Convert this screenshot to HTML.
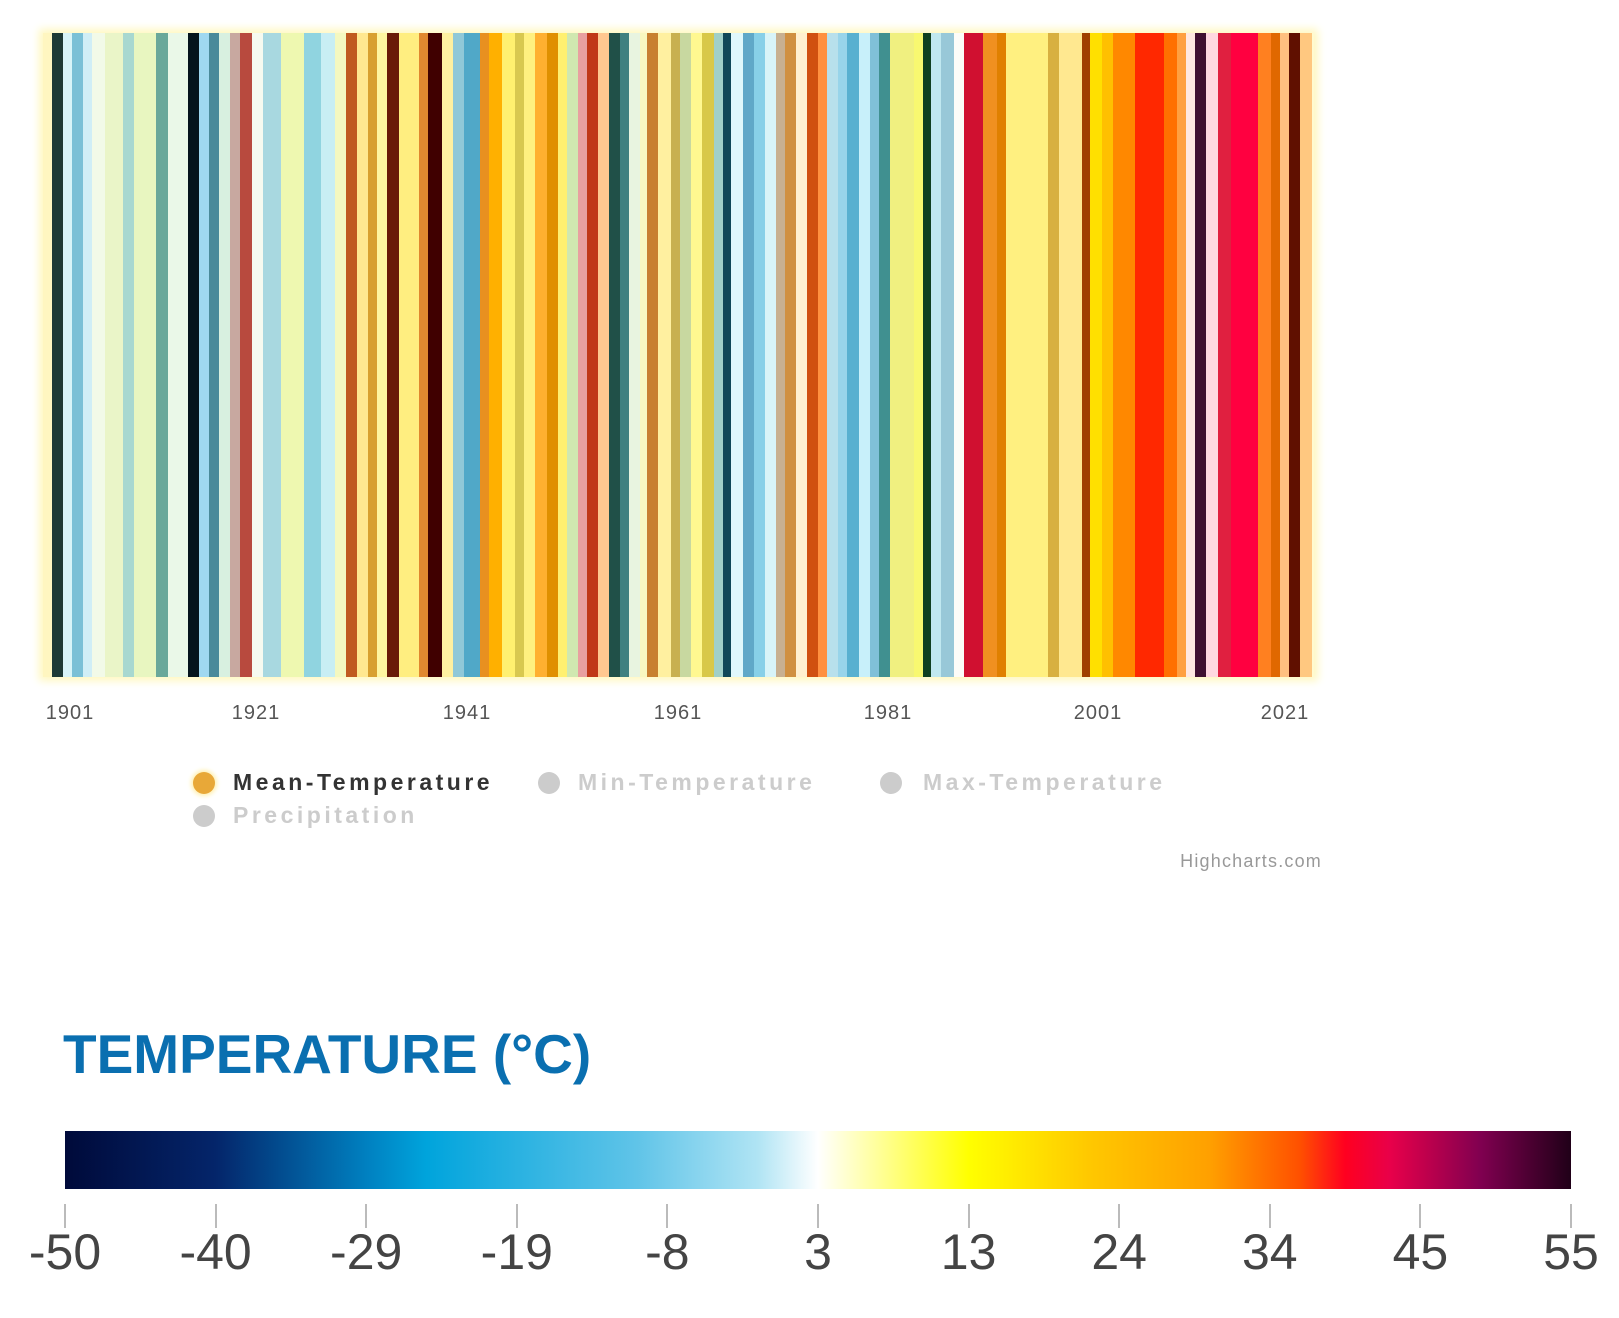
<!DOCTYPE html>
<html><head><meta charset="utf-8">
<style>
html,body{margin:0;padding:0;background:#fff;width:1619px;height:1318px;overflow:hidden;position:relative;font-family:"Liberation Sans",sans-serif}
#chart{position:absolute;left:43px;top:33px;width:1271px;height:644px;box-shadow:0 0 8px 4px #fff8c0;background:#fffbd0}
.s{position:absolute;top:33px;height:644px}
.yr{position:absolute;top:702px;font-size:20px;color:#555;transform:translateX(-50%);letter-spacing:1px}
.lg{position:absolute;font-size:23px;font-weight:bold;color:#ccc;letter-spacing:3.5px}
.dot{position:absolute;width:22px;height:22px;border-radius:50%;background:#ccc}
.tk{position:absolute;top:1204px;width:2px;height:24px;background:#bbb}
.tl{position:absolute;top:1223px;font-size:50px;color:#444;transform:translateX(-50%)}
</style></head><body>
<div id="chart"></div>
<div id="stripes"></div>
<div class="yr" style="left:70px">1901</div>
<div class="yr" style="left:256px">1921</div>
<div class="yr" style="left:467px">1941</div>
<div class="yr" style="left:678px">1961</div>
<div class="yr" style="left:888px">1981</div>
<div class="yr" style="left:1098px">2001</div>
<div class="yr" style="left:1285px">2021</div>
<div class="dot" style="left:193px;top:772px;background:#e8a838;box-shadow:0 0 4px 2px #fff0b0"></div>
<div class="lg" style="left:233px;top:769px;color:#333">Mean-Temperature</div>
<div class="dot" style="left:538px;top:772px"></div>
<div class="lg" style="left:578px;top:769px">Min-Temperature</div>
<div class="dot" style="left:880px;top:772px"></div>
<div class="lg" style="left:923px;top:769px">Max-Temperature</div>
<div class="dot" style="left:193px;top:805px"></div>
<div class="lg" style="left:233px;top:802px">Precipitation</div>
<div style="position:absolute;right:297px;top:851px;font-size:18px;color:#999;letter-spacing:1.2px">Highcharts.com</div>
<div style="position:absolute;left:63px;top:1022px;font-size:55px;font-weight:bold;color:#0a6fb0">TEMPERATURE (°C)</div>
<div style="position:absolute;left:65px;top:1131px;width:1506px;height:58px;background:linear-gradient(to right,#000a3a 0%,#04256a 10%,#0080c0 20%,#00a4dc 24%,#60c4e8 38%,#b0e4f4 46%,#ffffff 50%,#ffff80 55%,#ffff00 60%,#ffc800 68%,#ffa000 76%,#ff5000 82%,#ff0020 85%,#e8004a 88%,#800050 94%,#200018 100%)"></div>
<div id="ticks"></div>
<script>
var z1=[[95,115,'#fff6c0'],[115,140,'#1e3a35'],[140,160,'#d8f4f8'],[160,185,'#7ac0d6'],[185,205,'#d0eef6'],[205,235,'#f2fae8'],[235,275,'#eaf5c8'],[275,300,'#a8d8d0'],[300,350,'#e8f6c0'],[350,375,'#6aa89a'],[375,420,'#eaf8e8'],[420,445,'#04141c'],[445,468,'#9fd8f0'],[468,490,'#4a8a9a'],[490,515,'#d8f0e0'],[515,538,'#c8a8a0'],[538,565,'#b84a3e'],[565,590,'#f6faf0'],[590,630,'#a8d8e0'],[630,680,'#eef8b0'],[680,720,'#90d4e0'],[720,750,'#c8eef4'],[750,775,'#f4f8c0'],[775,800,'#c05a20'],[800,825,'#ffe890'],[825,845,'#d8a030'],[845,868,'#fff6a0'],[868,893,'#6a1a08'],[893,940,'#ffee80'],[940,960,'#e08830'],[960,990,'#400000'],[990,1015,'#fff0a0'],[1015,1040,'#90c8d8'],[1040,1075,'#50a8c8'],[1075,1095,'#e89020'],[1095,1125,'#ffb000'],[1125,1155,'#fff070'],[1155,1175,'#d8c850'],[1175,1200,'#fff080'],[1200,1225,'#ffb030'],[1225,1250,'#e09000'],[1250,1270,'#fff070'],[1270,1295,'#d0e8b0'],[1295,1315,'#e8a0a0'],[1315,1340,'#c03818'],[1340,1365,'#ffc890'],[1365,1390,'#205048'],[1390,1410,'#408080'],[1410,1435,'#e8f4e0'],[1435,1450,'#f8f8c0']];
var z2=[[0,25,'#c88030'],[25,55,'#fff0a0'],[55,75,'#c8b050'],[75,100,'#c8d8a0'],[100,125,'#fff890'],[125,150,'#d8c848'],[150,170,'#a0d0c8'],[170,190,'#104858'],[190,215,'#e0f8fc'],[215,240,'#60a8c8'],[240,265,'#88d0e8'],[265,290,'#d8f4f8'],[290,310,'#c8b090'],[310,335,'#d09040'],[335,360,'#fff0d0'],[360,385,'#d05010'],[385,405,'#ff9040'],[405,430,'#b8e0ec'],[430,450,'#98d4ea'],[450,475,'#58b0d0'],[475,500,'#c8f0fa'],[500,520,'#80c0d8'],[520,545,'#409090'],[545,600,'#f0f080'],[600,620,'#f8f870'],[620,637,'#104020'],[637,660,'#c0e8f0'],[660,690,'#98c8d8'],[690,712,'#fcfcf8'],[712,755,'#d01030'],[755,785,'#f09020'],[785,805,'#e08000'],[805,900,'#fff080'],[900,925,'#d8b040'],[925,975,'#ffe890'],[975,995,'#a04000'],[995,1020,'#ffe000'],[1020,1045,'#ffc000'],[1045,1095,'#ff8800'],[1095,1160,'#ff2800'],[1160,1190,'#ff7000'],[1190,1210,'#ffa040'],[1210,1230,'#ffe8e0'],[1230,1255,'#401030'],[1255,1280,'#ffd8e0'],[1280,1310,'#e02040'],[1310,1370,'#ff0040'],[1370,1400,'#ff8020'],[1400,1420,'#e06800'],[1420,1440,'#ffc080'],[1440,1465,'#601000'],[1465,1490,'#ffc880']];
var h='';
function add(a,off){a.forEach(function(s){var x=(off+s[0]/2.23-43)*0.9945+43,w=(s[1]-s[0])/2.23*0.9945;h+='<div class="s" style="left:'+x.toFixed(1)+'px;width:'+(w+0.6).toFixed(1)+'px;background:'+s[2]+'"></div>';});}
add(z1,0);add(z2,650);
document.getElementById('stripes').innerHTML=h;
var labs=['-50','-40','-29','-19','-8','3','13','24','34','45','55'],t='';
for(var i=0;i<11;i++){var x=65+i*150.6;t+='<div class="tk" style="left:'+(x-1)+'px"></div><div class="tl" style="left:'+x+'px">'+labs[i]+'</div>';}
document.getElementById('ticks').innerHTML=t;
</script>
</body></html>
